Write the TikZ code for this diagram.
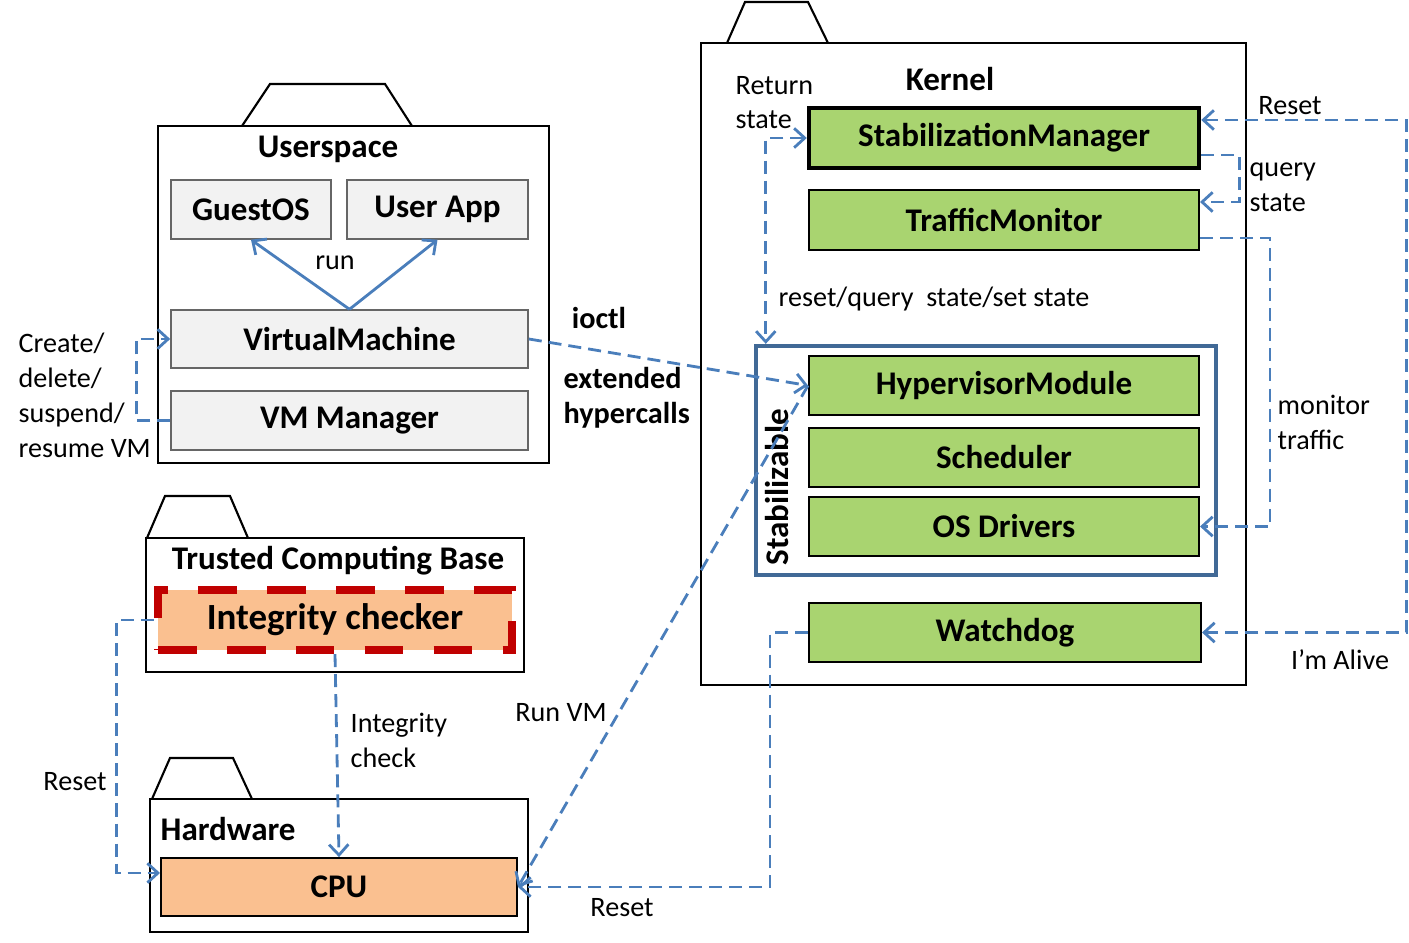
\documentclass[tikz,border=0pt]{standalone}
\usepackage{fontspec}
\setmainfont{Carlito}
\usepackage{xcolor}
\usetikzlibrary{arrows.meta}

\definecolor{boxgray}{RGB}{242,242,242}
\definecolor{modgreen}{RGB}{169,212,112}
\definecolor{hwpeach}{RGB}{250,192,144}
\definecolor{checkred}{RGB}{192,0,0}
\definecolor{linkblue}{RGB}{74,126,187}
\definecolor{stabblue}{RGB}{65,105,150}

\begin{document}
\begin{tikzpicture}[x=0.01cm, y=-0.01cm, >={Straight Barb[length=3pt,width=5.5pt]}]
    % Define styles
    \tikzstyle{package} = [rectangle, draw=black, line width=0.6pt, inner sep=0pt]
    \tikzstyle{tab} = [draw=black, line width=0.6pt]
    \tikzstyle{userbox} = [rectangle, draw=black!60, line width=0.4pt, fill=boxgray, text centered, font=\fontsize{9.4}{11}\selectfont\bfseries]
    \tikzstyle{module} = [rectangle, draw=black, line width=0.5pt, fill=modgreen, text centered, font=\fontsize{9.4}{11}\selectfont\bfseries]
    \tikzstyle{hwbox} = [rectangle, draw=black, line width=0.5pt, fill=hwpeach, text centered, font=\fontsize{9.4}{11}\selectfont\bfseries]
    \tikzstyle{title} = [inner sep=0pt, font=\fontsize{9.4}{11}\selectfont\bfseries]
    \tikzstyle{note} = [inner sep=0pt, align=left, font=\fontsize{8}{9.9}\selectfont]
    \tikzstyle{boldnote} = [inner sep=0pt, align=left, font=\fontsize{8.6}{9.9}\selectfont\bfseries]
    \tikzstyle{link} = [draw=linkblue, line width=0.8pt, dash pattern=on 3.7pt off 2pt]
    \tikzstyle{runlink} = [draw=linkblue, line width=0.8pt]

    \useasboundingbox (0,0) rectangle (1409,943);

    % Packages
    \node (userspace) [package, minimum width=3.91cm, minimum height=3.37cm] at (353.5,294.5) {};
    \draw [tab] (242,126) -- (270,84) -- (385,84) -- (412,126);
    \node (kernel) [package, minimum width=5.45cm, minimum height=6.42cm] at (973.5,364) {};
    \draw [tab] (727,43) -- (745,2) -- (808,2) -- (828,43);
    \node (tcb) [package, minimum width=3.78cm, minimum height=1.34cm] at (335,605) {};
    \draw [tab] (147,538) -- (165,496) -- (230,496) -- (248,538);
    \node (hardware) [package, minimum width=3.78cm, minimum height=1.33cm] at (339,865.5) {};
    \draw [tab] (152,799) -- (170,758) -- (233,758) -- (252,799);

    % Titles
    \node (usertitle) [title] at (328,149) {Userspace};
    \node (kerneltitle) [title] at (950,79) {Kernel};
    \node (tcbtitle) [title] at (338,561) {Trusted Computing Base};
    \node (hwtitle) [title, anchor=west] at (160,829) {Hardware};

    % Userspace
    \node (guest) [userbox, minimum width=1.60cm, minimum height=0.59cm] at (251,209.5) {GuestOS};
    \node (userapp) [userbox, minimum width=1.81cm, minimum height=0.59cm] at (437.5,209.5) {User App};
    \node (vm) [userbox, minimum width=3.57cm, minimum height=0.58cm] at (349.5,339) {VirtualMachine};
    \node (vmm) [userbox, minimum width=3.57cm, minimum height=0.59cm] at (349.5,420.5) {VM Manager};

    % Kernel
    \node (stabmgr) [module, line width=1.2pt, minimum width=3.90cm, minimum height=0.60cm] at (1004,138) {StabilizationManager};
    \node (traffic) [module, minimum width=3.90cm, minimum height=0.60cm] at (1004,220) {TrafficMonitor};
    \node (stab) [rectangle, draw=stabblue, line width=1.2pt, minimum width=4.60cm, minimum height=2.29cm] at (986,460.5) {};
    \node (stablbl) [title, rotate=90] at (777,487) {Stabilizable};
    \node (hypmod) [module, minimum width=3.90cm, minimum height=0.59cm] at (1004,385.5) {HypervisorModule};
    \node (sched) [module, minimum width=3.90cm, minimum height=0.59cm] at (1004,457.5) {Scheduler};
    \node (drivers) [module, minimum width=3.90cm, minimum height=0.59cm] at (1004,526.5) {OS Drivers};
    \node (watchdog) [module, minimum width=3.92cm, minimum height=0.59cm] at (1005,632.5) {Watchdog};

    % Trusted computing base and hardware
    \node (checker) [rectangle, fill=hwpeach, draw=checkred, line width=2.3pt, dash pattern=on 11pt off 8.6pt, minimum width=3.54cm, minimum height=0.60cm, font=\fontsize{10.5}{12}\selectfont\bfseries] at (335,620) {Integrity checker};
    \node (cpu) [hwbox, minimum width=3.56cm, minimum height=0.58cm] at (339,887) {CPU};

    % Labels
    \node (runlbl) [note] at (335,263) {run};
    \node (vmcmdlbl) [note, anchor=west] at (18,395.5) {Create/\\delete/\\suspend/\\resume VM};
    \node (ioctllbl) [boldnote] at (599,318) {ioctl};
    \node (hcalllbl) [boldnote, anchor=west] at (563,397.5) {extended\\hypercalls};
    \node (retlbl) [note, anchor=west] at (735,102.5) {Return\\state};
    \node (rqslbl) [note, anchor=west] at (778,299) {reset/query\ \ state/set state};
    \node (resettop) [note] at (1290,106) {Reset};
    \node (querylbl) [note, anchor=west] at (1249,187.5) {query\\state};
    \node (monlbl) [note, anchor=west] at (1277,422.5) {monitor\\traffic};
    \node (alivelbl) [note] at (1340,660) {I’m Alive};
    \node (runvmlbl) [note] at (561,713) {Run VM};
    \node (intlbl) [note, anchor=west] at (350,740.5) {Integrity\\check};
    \node (resetleft) [note] at (75,782) {Reset};
    \node (resetcpu) [note] at (622,908) {Reset};

    % Arrows
    \draw [runlink, ->] (vm.north) -- (guest.south);
    \draw [runlink, ->] (vm.north) -- (userapp.south);
    \draw [link, ->] (vmm.west) -- ++(-34,0) |- (vm.west);
    \draw [link, ->] (vm.east) -- (hypmod.west);
    \draw [link, ->] (hypmod.west) -- (cpu.east);
    \draw [link, <->] (stabmgr.west) -| ([xshift=0.12cm]stab.north west);
    \draw [link, ->] ([yshift=-0.17cm]stabmgr.east) -- ++(38,0) |- ([yshift=0.18cm]traffic.east);
    \draw [link, ->] ([yshift=-0.18cm]traffic.east) -- ++(70,0) |- (drivers.east);
    \draw [link, <->] ([yshift=0.18cm]stabmgr.east) -- ++(205,0) |- (watchdog.east);
    \draw [link, ->] (watchdog.west) -- ++(-38,0) |- (cpu.east);
    \draw [link, ->] (checker.south) -- (cpu.north);
    \draw [link, ->] (checker.west) -- ++(-37,0) |- ([yshift=0.14cm]cpu.west);
\end{tikzpicture}
\end{document}
